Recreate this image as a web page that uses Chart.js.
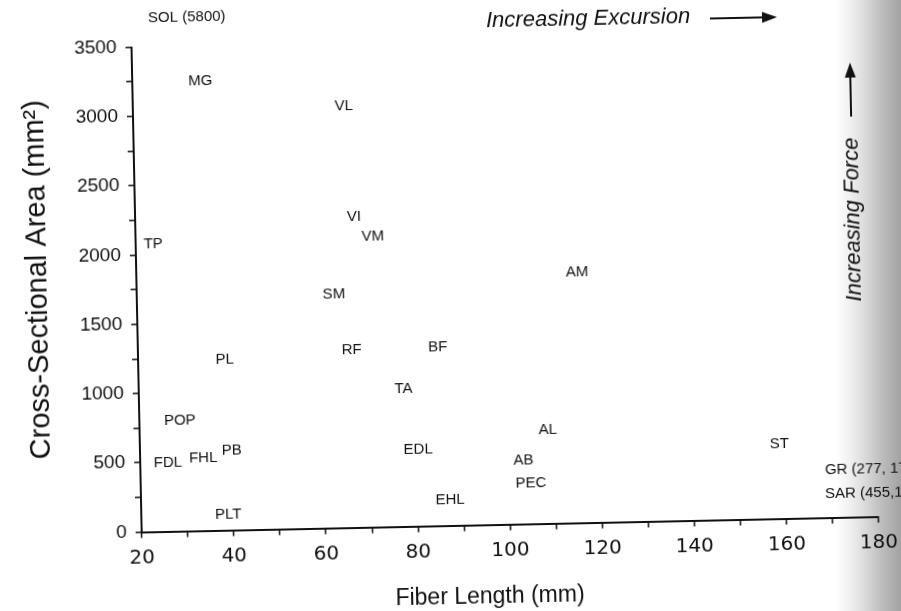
<!DOCTYPE html>
<html><head><meta charset="utf-8">
<script src="https://cdn.jsdelivr.net/npm/chart.js@4.4.1/dist/chart.umd.min.js"></script>
<style>
html,body{margin:0;padding:0;width:901px;height:611px;overflow:hidden;
background:linear-gradient(to right,#fff 0px,#fff 836px,#f0f0f0 850px,#dcdcdc 864px,#c0c0c0 880px,#a2a2a2 901px);}
#c{position:absolute;left:0;top:0;transform:rotate(-1.2deg);transform-origin:450.5px 305.5px;}
</style></head><body>
<canvas id="c" width="901" height="611"></canvas>
<script>
// Muscle abbreviations, fiber length (mm), cross-sectional area (mm^2)
const muscles    = ['MG','VL','VI','VM','TP','AM','SM','RF','BF','PL','TA','POP','AL','EDL','ST','PB','FHL','FDL','AB','PEC','EHL','PLT'];
const fiberLength= [34.8,65.8,67.5,71.5,23.8,115.7,62.8,66.4,85.1,38.8,77.5,28.8,108.6,80.4,158.8,39.9,33.7,26.0,103.2,104.7,87.1,38.9];
const area       = [3245,3043,2243,2096,2076,1810,1688,1281,1290,1228,992,795,674,550,538,578,525,494,461,294,184,110];

// Muscles whose values fall outside the axes (label text as printed)
const offScaleText = ['SOL (5800)','GR (277, 17','SAR (455,17'];
const offScaleX    = [23.7, 168.6, 168.5];
const offScaleY    = [3709, 344, 171];

// Axis ticks and titles
const xMajorTicks = [20,40,60,80,100,120,140,160,180];
const yMajorTicks = [0,500,1000,1500,2000,2500,3000,3500];
const xTitle = 'Fiber Length (mm)';
const yTitle = 'Cross-Sectional Area (mm\u00B2)';

const FONT = '"Liberation Sans", Arial, Helvetica, sans-serif';
const INK = '#111';

function arrow(ctx, x1, y1, x2, y2, head, half){
  const a = Math.atan2(y2 - y1, x2 - x1);
  const bx = x2 - head * Math.cos(a), by = y2 - head * Math.sin(a);
  ctx.beginPath(); ctx.moveTo(x1, y1); ctx.lineTo(bx, by); ctx.stroke();
  ctx.beginPath();
  ctx.moveTo(x2, y2);
  ctx.lineTo(bx + half * Math.sin(a), by - half * Math.cos(a));
  ctx.lineTo(bx - half * Math.sin(a), by + half * Math.cos(a));
  ctx.closePath(); ctx.fill();
}

const labelPlugin = {
  id: 'muscleLabels',
  afterDatasetsDraw(chart){
    const ctx = chart.ctx, xs = chart.scales.x, ys = chart.scales.y;
    ctx.save();
    ctx.fillStyle = INK; ctx.strokeStyle = INK;
    ctx.font = '15px ' + FONT;
    ctx.textAlign = 'center'; ctx.textBaseline = 'middle';
    chart.data.datasets[0].data.forEach((p, i) => {
      ctx.fillText(muscles[i], xs.getPixelForValue(p.x), ys.getPixelForValue(p.y));
    });
    ctx.textAlign = 'left';
    offScaleText.forEach((t, i) => {
      ctx.fillText(t, xs.getPixelForValue(offScaleX[i]), ys.getPixelForValue(offScaleY[i]));
    });
    // axis titles
    ctx.textAlign = 'center';
    ctx.font = '23px ' + FONT;
    ctx.fillText(xTitle, 484, 598);
    ctx.save();
    ctx.translate(39, 271); ctx.rotate(-Math.PI / 2);
    ctx.font = '29px ' + FONT;
    ctx.fillText(yTitle, 0, 0);
    ctx.restore();
    // direction annotations
    ctx.font = 'italic 22px ' + FONT;
    ctx.textAlign = 'left';
    ctx.fillText('Increasing Excursion', 492, 22);
    ctx.lineWidth = 2;
    arrow(ctx, 716, 24, 783, 24, 15, 5.5);
    ctx.save();
    ctx.translate(855, 228); ctx.rotate(-Math.PI / 2);
    ctx.textAlign = 'center';
    ctx.fillText('Increasing Force', 0, 0);
    ctx.restore();
    arrow(ctx, 855, 125, 855, 71, 15, 5.5);
    ctx.restore();
  }
};

new Chart(document.getElementById('c'), {
  type: 'scatter',
  data: {
    datasets: [{
      data: muscles.map((m, i) => ({x: fiberLength[i], y: area[i]})),
      pointRadius: 0, pointHoverRadius: 0, showLine: false
    }]
  },
  options: {
    responsive: false, devicePixelRatio: 1, animation: false, events: [],
    layout: {padding: {top: 40.5, right: 22.5, bottom: 0, left: 0}},
    plugins: {legend: {display: false}, tooltip: {enabled: false}},
    scales: {
      x: {
        type: 'linear', min: 20, max: 180,
        afterFit: s => { s.height = 85.5; },
        ticks: {
          stepSize: 10, autoSkip: false, maxRotation: 0, padding: 8, color: INK,
          font: {family: '"DejaVu Sans", sans-serif', size: 20},
          callback: v => xMajorTicks.includes(v) ? String(v) : ''
        },
        grid: {display: true, drawOnChartArea: false, drawTicks: true, tickLength: 6, color: INK, lineWidth: 1.5},
        border: {display: true, color: INK, width: 2},
        title: {display: false, text: xTitle}
      },
      y: {
        type: 'linear', min: 0, max: 3500,
        afterFit: s => { s.width = 137; },
        ticks: {
          stepSize: 250, autoSkip: false, padding: 9, color: INK,
          font: {family: FONT, size: 19},
          callback: v => yMajorTicks.includes(v) ? String(v) : ''
        },
        grid: {display: true, drawOnChartArea: false, drawTicks: true, tickLength: 6, color: INK, lineWidth: 1.5},
        border: {display: true, color: INK, width: 2},
        title: {display: false, text: yTitle}
      }
    }
  },
  plugins: [labelPlugin]
});
</script>
</body></html>
